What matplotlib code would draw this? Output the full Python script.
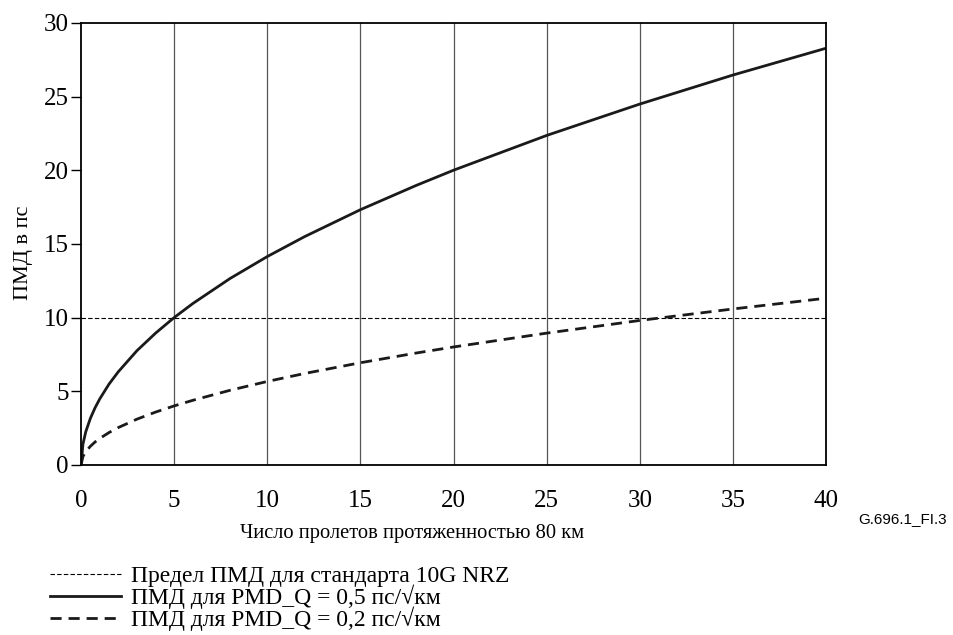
import numpy as np
import matplotlib
matplotlib.use('Agg')
import matplotlib.pyplot as plt

# spans (80 km each) and PMD values
spans = [0, 0.1, 0.25, 0.5, 0.75, 1, 1.5, 2, 3, 4, 5, 6, 8, 10, 12, 15, 18, 20, 25, 30, 35, 40]
pmd_05 = [0, 1.41, 2.24, 3.16, 3.87, 4.47, 5.48, 6.32, 7.75, 8.94, 10.0, 10.95, 12.65, 14.14,
          15.49, 17.32, 18.97, 20.0, 22.36, 24.49, 26.46, 28.28]
pmd_02 = [0, 0.57, 0.89, 1.26, 1.55, 1.79, 2.19, 2.53, 3.10, 3.58, 4.0, 4.38, 5.06, 5.66,
          6.20, 6.93, 7.59, 8.0, 8.94, 9.80, 10.58, 11.31]
limit_x = [0, 40]
limit_y = [10, 10]

xticks = [0, 5, 10, 15, 20, 25, 30, 35, 40]
yticks = [0, 5, 10, 15, 20, 25, 30]

lab_limit = 'Предел ПМД для стандарта 10G NRZ'
lab_05 = 'ПМД для PMD_Q = 0,5 пс/√км'
lab_02 = 'ПМД для PMD_Q = 0,2 пс/√км'

plt.rcParams['font.family'] = ['Liberation Serif', 'DejaVu Serif']
plt.rcParams['axes.linewidth'] = 1.3

fig = plt.figure(figsize=(9.54, 6.35), dpi=100)
ax = fig.add_axes([0.085, 0.268, 0.781, 0.696])

for x in xticks[1:-1]:
    ax.axvline(x, color='#555555', linewidth=0.9, zorder=1)

l1, = ax.plot(limit_x, limit_y, color='black', linestyle=(0, (4, 2)), linewidth=0.8, label=lab_limit)
l2, = ax.plot(spans, pmd_05, color='#1a1a1a', linewidth=2.0, label=lab_05)
l3, = ax.plot(spans, pmd_02, color='#1a1a1a', linewidth=2.0, linestyle=(0, (4, 2.5)), label=lab_02)

ax.set_xlim(0, 40)
ax.set_ylim(0, 30)
ax.set_xticks(xticks)
ax.set_yticks(yticks)
ax.tick_params(axis='x', length=0, pad=18, labelsize=18)
ax.tick_params(axis='y', length=7, width=1, pad=2, labelsize=18)

fig.text(0.025, 0.6016, 'ПМД в пс', fontsize=16, rotation=90, ha='center', va='center')
fig.text(0.432, 0.16, 'Число пролетов протяженностью 80 км', fontsize=14.8, ha='center', va='center')

fig.text(0.9, 0.183, 'G.696.1_FI.3', fontsize=11, family='Liberation Sans', ha='left', va='center')

fig.legend(handles=[l1, l2, l3], loc='upper left', bbox_to_anchor=(0.04, 0.128),
           frameon=False, fontsize=17, handlelength=3.0, handletextpad=0.42,
           labelspacing=-0.1, borderpad=0)

plt.savefig('out.png', dpi=100)
